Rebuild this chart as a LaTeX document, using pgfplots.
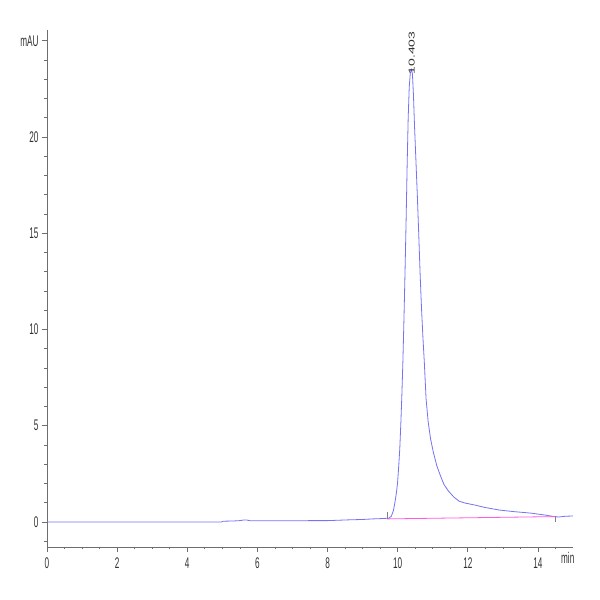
\documentclass[border=0pt]{standalone}
\usepackage{fontspec}
\setmainfont{Liberation Sans}
\newfontfamily\narrowfont{Liberation Sans}[FakeStretch=0.53]
\usepackage{pgfplots}
\pgfplotsset{compat=1.18}
\definecolor{trace}{RGB}{115,115,245}
\definecolor{base}{RGB}{255,90,225}
\definecolor{axgray}{RGB}{110,110,110}
\definecolor{txtgray}{RGB}{50,50,50}
\begin{document}
\begin{tikzpicture}
\path[use as bounding box] (0,0) rectangle (600bp,600bp);
\begin{axis}[
  at={(47bp,53bp)}, anchor=south west,
  scale only axis, width=526bp, height=517bp,
  xmin=0, xmax=15, ymin=-1.3, ymax=25.56,
  axis x line=bottom, axis y line=left,
  axis line style={-, axgray, line width=0.7bp},
  xtick={0,2,...,14},
  minor xtick={0.5,1,...,14.5},
  ytick={0,5,...,20},
  minor ytick={-1,0,...,25},
  extra y ticks={25}, extra y tick labels={mAU},
  extra x ticks={14.85}, extra x tick labels={min},
  extra x tick style={major tick length=0pt},
  tick align=outside,
  major tick length=5bp, minor tick length=2.5bp,
  every tick/.style={axgray, line width=0.7bp},
  tick label style={font=\narrowfont\fontsize{15.5}{15.5}\selectfont, text=txtgray},
  xticklabel style={yshift=-2bp},
  xticklabel={\pgfmathprintnumber[assume math mode=true]{\tick}},
  yticklabel={\pgfmathprintnumber[assume math mode=true]{\tick}},
  clip=false,
]
\addplot[trace, line width=0.8bp] coordinates {
(0,0.0) (1,0.0) (2,0.0) (3,0.0) (4,0.0) (4.98,0.0) (5.02,0.04) (5.3,0.05)
(5.5,0.07) (5.6,0.1) (5.7,0.1) (5.8,0.06) (6.5,0.06) (7.0,0.06) (7.5,0.07)
(8.0,0.07) (8.3,0.09) (8.6,0.11) (9.0,0.13) (9.3,0.16) (9.6,0.18) (9.75,0.2)
(9.82,0.3) (9.88,0.6) (9.93,1.1) (9.97,1.6) (10.0,2.1) (10.03,2.9) (10.06,3.8)
(10.09,5.1) (10.12,6.6) (10.15,8.4) (10.18,10.6) (10.21,13.0) (10.24,15.6)
(10.27,18.5) (10.30,21.0) (10.33,22.6) (10.36,23.3) (10.39,23.5) (10.42,23.3)
(10.45,22.2) (10.48,20.6) (10.52,18.8) (10.56,17.0) (10.60,15.0) (10.64,12.9)
(10.68,11.1) (10.72,9.6) (10.76,8.3) (10.81,6.4) (10.87,5.2) (10.94,4.3)
(11.02,3.6) (11.12,2.9) (11.22,2.4) (11.32,1.95) (11.45,1.6) (11.6,1.3)
(11.75,1.08) (11.93,0.98) (12.2,0.88) (12.5,0.75) (12.9,0.62) (13.3,0.54)
(13.8,0.46) (14.2,0.36) (14.5,0.27) (14.6,0.26) (14.8,0.3) (15.0,0.31)
};
\addplot[base, line width=0.8bp] coordinates {(9.69,0.16) (14.5,0.28)};
\addplot[gray, line width=0.5bp] coordinates {(9.69,0.15) (9.69,0.5)};
\addplot[gray, line width=0.5bp] coordinates {(14.5,0.0) (14.5,0.3)};
\node[rotate=90, anchor=west, inner sep=0pt, text=txtgray,
  font=\fontsize{8.5}{8.5}\selectfont] at (axis cs:10.403,23.25)
  {\scalebox{1.65}[1]{10.403}};
\end{axis}
\end{tikzpicture}
\end{document}
